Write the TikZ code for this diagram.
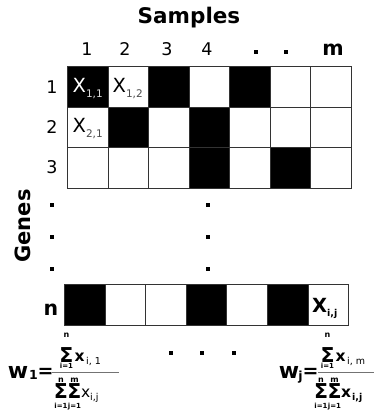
\documentclass[tikz,border=0pt]{standalone}
\usepackage{fontspec}
\setmainfont{DejaVu Sans}
\newcommand{\fsz}[1]{\fontsize{#1}{#1}\selectfont}
\begin{document}
\begin{tikzpicture}[x=1pt,y=-1pt,
  cellbox/.style={draw=black!80, line width=0.8pt, minimum width=40.5pt, minimum height=40.6pt, inner sep=0, anchor=north west},
  cellboxn/.style={draw=black!80, line width=0.8pt, minimum width=40.6pt, minimum height=41pt, inner sep=0, anchor=north west},
  lbl/.style={inner sep=0, anchor=base, font=\fsz{17.5}},
  blbl/.style={inner sep=0, anchor=base, font=\bfseries\fsz{20.5}},
  dotbox/.style={fill=black, minimum size=4pt, inner sep=0},
  celltxt/.style={inner sep=0, anchor=base west},
  sig/.style={inner sep=0, anchor=base, font=\bfseries\fsz{20.5}},
  lim/.style={inner sep=0, anchor=base, font=\bfseries\fsz{8}},
  limb/.style={inner sep=0, anchor=base, font=\bfseries\fsz{7}},
  fx/.style={inner sep=0, anchor=base west, font=\bfseries\fsz{15.5}},
  fsub/.style={inner sep=0, anchor=base west, font=\fsz{9.5}},
  fracline/.style={draw=black!55, line width=1pt}
]
\useasboundingbox (0,0) rectangle (374,418);

% top grid
\foreach \r/\fl in {1/{black,white,black,white,black,white,white},
                    2/{white,black,white,black,white,white,white},
                    3/{white,white,white,black,white,black,white}}{
  \foreach \f [count=\c] in \fl {
    \node[cellbox, fill=\f] (c\r-\c) at ({67+(\c-1)*40.5},{66+(\r-1)*40.6}) {};
  }
}
% row n
\foreach \f [count=\c] in {black,white,white,black,white,black,white} {
  \node[cellboxn, fill=\f] (cn-\c) at ({64+(\c-1)*40.6},284) {};
}

% cell texts
\node[celltxt, text=white] (x11) at (72.5,92) {{\fsz{19.5}X}{\fsz{10.5}\raisebox{-5pt}{\color{black!15}1,1}}};
\node[celltxt] (x12) at (112.5,92) {{\fsz{19.5}X}{\fsz{10.5}\raisebox{-5pt}{\color{black!70}1,2}}};
\node[celltxt] (x21) at (72.5,132.5) {{\fsz{19.5}X}{\fsz{10.5}\raisebox{-5pt}{\color{black!70}2,1}}};
\node[celltxt] (xij) at (312,312) {{\bfseries\fsz{19.5}X}{\bfseries\fsz{9.5}\raisebox{-4pt}{i,j}}};

% titles
\node[inner sep=0, anchor=base, font=\bfseries\fsz{21.5}] (samples) at (189,23) {Samples};
\node[rotate=90, inner sep=0, font=\bfseries\fsz{21}] (genes) at (23,226) {Genes};

% column labels
\node[lbl] (k1) at (87,55) {1};
\node[lbl] (k2) at (125,55) {2};
\node[lbl] (k3) at (167,55) {3};
\node[lbl] (k4) at (207,55) {4};
\node[dotbox] (kd1) at (256,52) {};
\node[dotbox] (kd2) at (286,52) {};
\node[blbl] (km) at (333,55) {m};

% row labels
\node[lbl] (r1) at (52,93) {1};
\node[lbl] (r2) at (52,133) {2};
\node[lbl] (r3) at (52,173) {3};
\node[blbl] (rn) at (51,315) {n};
\foreach \y [count=\i] in {205,237,269} {
  \node[dotbox] (ld\i) at (52,\y) {};
  \node[dotbox] (md\i) at (208,\y) {};
}
\foreach \x [count=\i] in {170.5,202,234} {
  \node[dotbox] (bd\i) at (\x,353) {};
}

% left formula
\node[inner sep=0, anchor=base, font=\bfseries\fsz{22}] (w1) at (18,378) {w};
\node[inner sep=0, anchor=base, font=\bfseries\fsz{12.5}] (w1s) at (33.5,379) {1};
\node[inner sep=0, anchor=base, font=\bfseries\fsz{19}] (eq1) at (45.5,377) {=};
\coordinate (fl1a) at (52,372);
\coordinate (fl1b) at (119,372);
\draw[fracline] (fl1a) -- (fl1b);
\node[sig] (s1) at (66.5,362) {Σ};
\node[lim] (s1t) at (66.5,337) {n};
\node[limb] (s1b) at (66.5,368.5) {i=1};
\node[fx] (n1x) at (74.5,361) {x};
\node[fsub] (n1s) at (86,364) {i, 1};
\node[sig] (s2) at (61,398.5) {Σ};
\node[sig] (s3) at (74.5,398.5) {Σ};
\node[lim] (s2t) at (61,382) {n};
\node[lim] (s3t) at (74.5,382) {m};
\node[limb] (s2b) at (61,408) {i=1};
\node[limb] (s3b) at (74.5,408) {j=1};
\node[fx, font=\fsz{15.5}] (d1x) at (81,397) {x};
\node[fsub] (d1s) at (90,400) {i,j};

% right formula
\node[inner sep=0, anchor=base, font=\bfseries\fsz{22}] (wj) at (289,378) {w};
\node[inner sep=0, anchor=base, font=\bfseries\fsz{12.5}] (wjs) at (300.5,380) {j};
\node[inner sep=0, anchor=base, font=\bfseries\fsz{19}] (eq2) at (310.5,377) {=};
\coordinate (fl2a) at (318,372);
\coordinate (fl2b) at (374,372);
\draw[fracline] (fl2a) -- (fl2b);
\node[sig] (s4) at (327.5,362) {Σ};
\node[lim] (s4t) at (327.5,337) {n};
\node[limb] (s4b) at (327.5,368.5) {i=1};
\node[fx] (n2x) at (335.5,361) {x};
\node[fsub] (n2s) at (347,364) {i, m};
\node[sig] (s5) at (321,398.5) {Σ};
\node[sig] (s6) at (334.5,398.5) {Σ};
\node[lim] (s5t) at (321,382) {n};
\node[lim] (s6t) at (334.5,382) {m};
\node[limb] (s5b) at (321,408) {i=1};
\node[limb] (s6b) at (334.5,408) {j=1};
\node[fx] (d2x) at (341,397) {x};
\node[fsub, font=\bfseries\fsz{9.5}] (d2s) at (352,400) {i,j};
\end{tikzpicture}
\end{document}
